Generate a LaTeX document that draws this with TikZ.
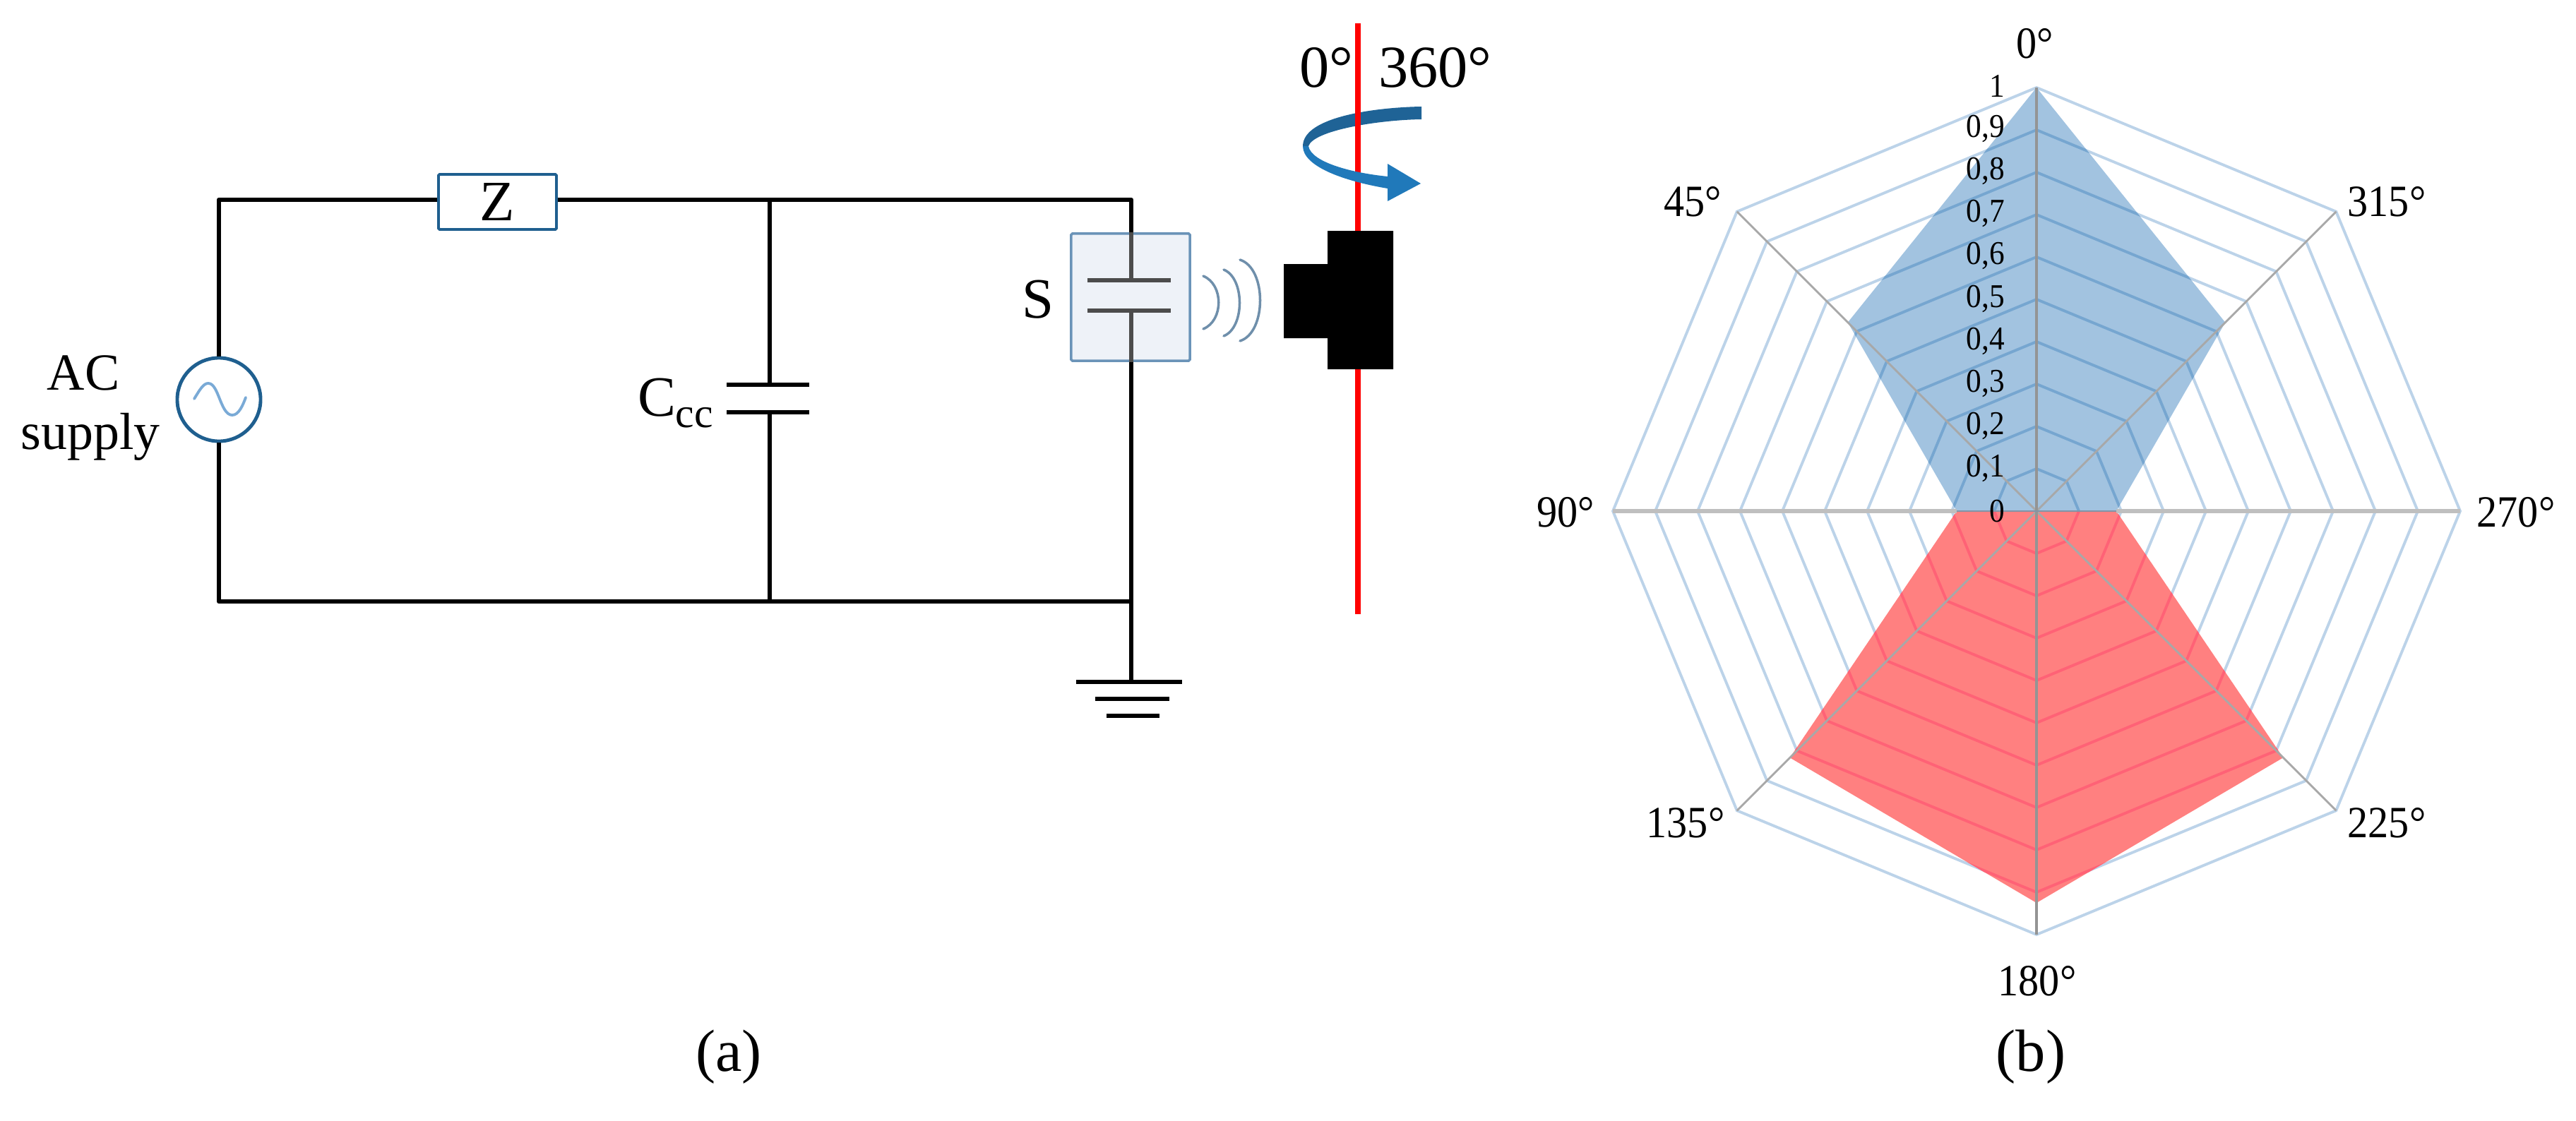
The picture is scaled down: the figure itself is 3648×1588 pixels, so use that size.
\documentclass[tikz,border=0pt]{standalone}
\usepackage{fontspec}
\setmainfont{Liberation Serif}
\newfontfamily\narrowserif[FakeStretch=0.92]{Liberation Serif}
\usetikzlibrary{arrows.meta,calc}
\definecolor{wireblue}{HTML}{1F5F8F}
\definecolor{sinecol}{HTML}{7AAAD6}
\definecolor{sensorfill}{HTML}{EEF2F8}
\definecolor{sensoredge}{HTML}{6A93B8}
\definecolor{waveblue}{HTML}{6F8FAB}
\definecolor{arrowdark}{HTML}{1F6396}
\definecolor{arrowlight}{HTML}{2079BA}
\definecolor{gridline}{HTML}{BCD3E9}
\definecolor{gridblue}{HTML}{76A6D0}
\definecolor{gridred}{HTML}{FF6276}
\definecolor{spoke}{HTML}{A8A8A8}
\definecolor{blueradar}{HTML}{A2C3E0}
\definecolor{redradar}{HTML}{FF8080}
\newcommand{\ptsize}[1]{\fontsize{#1}{#1}\selectfont}
\tikzset{
  wire/.style={line width=1.9pt,black,line join=round},
  lbl/.style={inner sep=0pt,outer sep=0pt,text=black},
  capplate/.style={line width=1.9pt,black},
  ring/.style={line width=1.1pt,draw=gridline,line join=miter},
  spokeline/.style={line width=0.8pt,draw=spoke},
  radarlbl/.style={lbl,font=\narrowserif\ptsize{18}},
  scalelbl/.style={lbl,anchor=east,font=\narrowserif\ptsize{13.4}},
}
\newcommand{\ringpath}[1]{(90:#1*600) -- (45:#1*600) -- (0:#1*600) -- (-45:#1*600) -- (-90:#1*600) -- (-135:#1*600) -- (180:#1*600) -- (135:#1*600) -- cycle}
\begin{document}
\begin{tikzpicture}[x=0.01cm,y=-0.01cm]
\useasboundingbox (0,0) rectangle (3648,1588);
% --- circuit
\coordinate (tl) at (310,283);
\coordinate (bl) at (310,852);
\coordinate (tm) at (1090,283);
\coordinate (bm) at (1090,852);
\coordinate (tr) at (1602,283);
\coordinate (br) at (1602,852);
\coordinate (gnd) at (1602,966);
\node[draw=wireblue,line width=1.1pt,fill=white,minimum width=167*0.2845pt,minimum height=78*0.2845pt,inner sep=0pt,rounded corners=0.5pt,font=\ptsize{23}] (Z) at (704.5,286) {Z};
\node[draw=wireblue,line width=1.4pt,fill=white,circle,minimum size=118*0.2845pt,inner sep=0pt] (ac) at (310,566) {};
\draw[wire] (ac.north) -- (tl) -- (tl -| Z.west);
\draw[wire] (tl -| Z.east) -- (tm) -- (tr) -- (gnd);
\draw[wire] (ac.south) -- (bl) -- (br);
\coordinate (cu) at (1090,545);
\coordinate (cd) at (1090,584);
\draw[wire] (tm) -- (cu);
\draw[wire] (cd) -- (bm);
\draw[capplate] ($(cu)+(-61,0)$) -- ($(cu)+(56,0)$);
\draw[capplate] ($(cd)+(-61,0)$) -- ($(cd)+(56,0)$);
\draw[line width=1.1pt,draw=sinecol,line cap=round] (275,565)
  .. controls (283,552) and (288,543) .. (295,543) .. controls (310,543) and (312,588) .. (329,588) .. controls (338,588) and (344,574) .. (348,563);
\node[lbl,font=\ptsize{21}] (aclabel) at (118,528) {AC};
\node[lbl,font=\ptsize{21}] (supplylabel) at (128,619) {supply};
\node[lbl,font=\ptsize{23},anchor=west] (ccc) at (903,571) {C\raisebox{-0.2em}{\ptsize{17}cc}};
% sensor
\coordinate (s1) at (1602,397);
\coordinate (s2) at (1602,440);
\node[draw=sensoredge,line width=1.0pt,fill=sensorfill,rounded corners=0.5pt,minimum width=168*0.2845pt,minimum height=180*0.2845pt,inner sep=0pt] (S) at (1601,421) {};
\draw[wire] (tr) -- (S.north -| s1);
\draw[line width=1.7pt,draw=black!70] (S.north -| s1) -- (s1);
\draw[line width=1.7pt,draw=black!70] (s2) -- (S.south -| s2);
\draw[wire] (S.south -| s2) -- (br);
\draw[line width=1.7pt,draw=black!70] (1540,397) -- (1658,397);
\draw[line width=1.7pt,draw=black!70] (1540,440) -- (1658,440);
\node[lbl,font=\ptsize{23}] (slabel) at (1470,424) {S};
% waves
\foreach \a/\b/\c/\d in {1704/391/466/1733,1733/382/476/1763,1756/368/483/1794}{
  \draw[line width=1.0pt,draw=waveblue,line cap=round] (\a,\b) .. controls (\d,\b+12) and (\d,\c-12) .. (\a,\c);
}
% ground
\draw[capplate] (1524,966) -- (1674,966);
\draw[capplate] (1551,990) -- (1656,990);
\draw[capplate] (1567,1014) -- (1642,1014);
% rotation arrow (upper part behind the axis)
\fill[arrowdark] (2013,151) .. controls (1950,152) and (1845,165) .. (1845,207) -- (1853,207) .. controls (1860,185) and (1950,170) .. (2013,169) -- cycle;
% red axis + head
\draw[line width=2.2pt,red] (1923,33) -- (1923,870);
\fill[black] (1880,327) -- (1973,327) -- (1973,523) -- (1880,523) -- (1880,479) -- (1818,479) -- (1818,374) -- (1880,374) -- cycle;
% rotation arrow (lower part in front of the axis)
\fill[arrowlight] (1845,207) .. controls (1845,235) and (1900,256) .. (1965,267) -- (1965,285) -- (2012,260) -- (1965,232) -- (1965,250) .. controls (1915,245) and (1857,230) .. (1853,207) -- cycle;
\node[lbl,font=\ptsize{24},anchor=east] (deg0) at (1916,96) {0°};
\node[lbl,font=\ptsize{24},anchor=west] (deg360) at (1952,96) {360°};
\node[lbl,font=\ptsize{24}] (capa) at (1032,1497) {(a)};
\node[lbl,font=\ptsize{24}] (capb) at (2876,1497) {(b)};
% --- radar
\begin{scope}[shift={(2884,724)},y=0.01cm]
  \foreach \r in {0.1,0.2,...,1.01}{\draw[ring] \ringpath{\r};}
  \path[fill=blueradar] (90:600) -- (45:378) -- (0:113) -- (0,0) -- (0:-113) -- (135:378) -- cycle;
  \path[fill=redradar] (0:-113) -- (-135:494) -- (-90:555) -- (-45:494) -- (0:113) -- (0,0) -- cycle;
  \begin{scope}
    \clip (90:600) -- (45:378) -- (0:113) -- (0,0) -- (0:-113) -- (135:378) -- cycle;
    \foreach \r in {0.1,0.2,...,1.01}{\draw[ring,draw=gridblue] \ringpath{\r};}
  \end{scope}
  \begin{scope}
    \clip (0:-113) -- (-135:494) -- (-90:555) -- (-45:494) -- (0:113) -- (0,0) -- cycle;
    \foreach \r in {0.1,0.2,...,1.01}{\draw[ring,draw=gridred] \ringpath{\r};}
  \end{scope}
  \draw[spokeline] (45:600) -- (-135:600);
  \draw[spokeline] (135:600) -- (-45:600);
  \draw[spokeline,line width=1.0pt,draw=black!42] (90:600) -- (-90:600);
  \draw[spokeline,line width=1.5pt,draw=black!25] (180:600) -- (-113,0);
  \draw[spokeline,line width=1.5pt,draw=black!25] (0:600) -- (113,0);
  \draw[line width=0.6pt,draw=blueradar!70!black!90] (-113,0) -- (113,0);
\end{scope}
\foreach \v/\t in {1/1,0.9/{0,9},0.8/{0,8},0.7/{0,7},0.6/{0,6},0.5/{0,5},0.4/{0,4},0.3/{0,3},0.2/{0,2},0.1/{0,1},0/0}{
  \node[scalelbl] at (2839,724-602*\v) {\t};
}
\node[radarlbl] (r0) at (2882,62) {0°};
\node[radarlbl] (r45) at (2397,286) {45°};
\node[radarlbl] (r315) at (3380,286) {315°};
\node[radarlbl] (r90) at (2217,726) {90°};
\node[radarlbl] (r270) at (3563,726) {270°};
\node[radarlbl] (r135) at (2387,1166) {135°};
\node[radarlbl] (r225) at (3380,1166) {225°};
\node[radarlbl] (r180) at (2885,1390) {180°};
\end{tikzpicture}
\end{document}
